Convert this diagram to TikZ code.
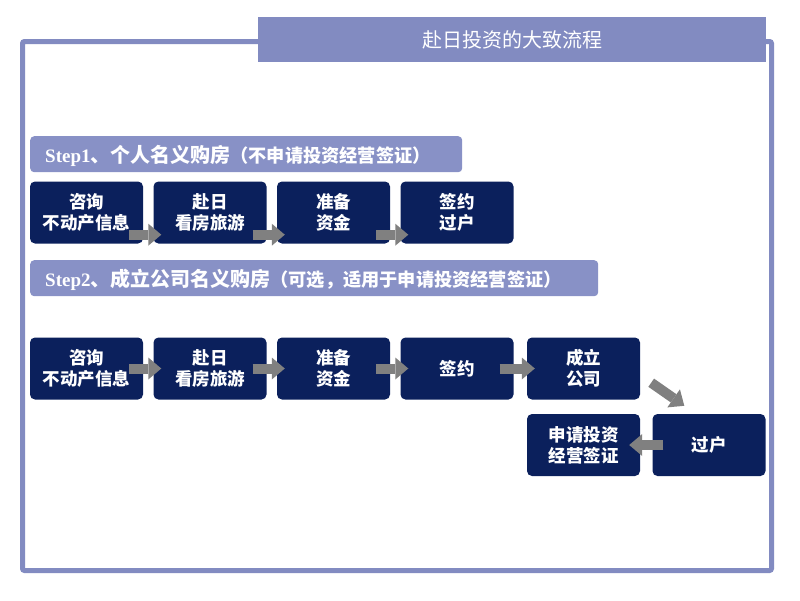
\documentclass[tikz,border=0pt]{standalone}
\usepackage{fontspec}
\setmainfont{Liberation Serif}
\newfontfamily\cjk{Noto Sans CJK SC}
\usetikzlibrary{arrows.meta,calc}
\definecolor{frameblue}{RGB}{130,139,193}
\definecolor{barblue}{RGB}{136,145,198}
\definecolor{navy}{RGB}{11,32,92}
\definecolor{arrowgray}{RGB}{128,128,128}
\begin{document}
\begin{tikzpicture}[x=1pt,y=-1pt,
  stepbox/.style={fill=navy, rounded corners=5pt, minimum width=113pt, minimum height=62pt,
    inner sep=0pt, text=white, font=\cjk\bfseries\fontsize{17.5}{21}\selectfont, align=center},
  flow/.style={draw=arrowgray, line width=10pt,
    -{Triangle[width=22pt,length=13pt,line width=0pt]}},
  barbox/.style={fill=barblue, rounded corners=4pt, minimum height=36pt, inner sep=0pt, anchor=north west},
  bartext/.style={anchor=west, text=white, inner sep=0pt},
]
\useasboundingbox (0,0) rectangle (800,600);
% frame
\draw[frameblue, line width=5pt, rounded corners=2pt] (22.5,41.5) rectangle (771.5,570.5);
% title
\node[fill=frameblue, minimum width=508pt, minimum height=45pt, inner sep=0pt, anchor=north west,
  text=white, font=\cjk\fontsize{20}{20}\selectfont] (title) at (258,17) {赴日投资的大致流程};

% step bars
\node[barbox, minimum width=432pt] (s1bar) at (30,136) {};
\node[bartext] (s1text) at ($(s1bar.west)+(15,2)$) {{\bfseries\fontsize{19}{20}\selectfont Step1}{\cjk\bfseries\fontsize{20}{20}\selectfont 、个人名义购房}{\cjk\bfseries\fontsize{18.2}{20}\selectfont （不申请投资经营签证）}};
\node[barbox, minimum width=568pt] (s2bar) at (30,260) {};
\node[bartext] (s2text) at ($(s2bar.west)+(15,2)$) {{\bfseries\fontsize{19}{20}\selectfont Step2}{\cjk\bfseries\fontsize{20}{20}\selectfont 、成立公司名义购房}{\cjk\bfseries\fontsize{18.2}{20}\selectfont （可选，适用于申请投资经营签证）}};

% row 1
\node[stepbox] (b1) at (86.5,212.5) {咨询\\不动产信息};
\node[stepbox] (b2) at (210,212.5) {赴日\\看房旅游};
\node[stepbox] (b3) at (333.5,212.5) {准备\\资金};
\node[stepbox] (b4) at (457,212.5) {签约\\过户};

% row 2
\node[stepbox] (c1) at (86.5,368.5) {咨询\\不动产信息};
\node[stepbox] (c2) at (210,368.5) {赴日\\看房旅游};
\node[stepbox] (c3) at (333.5,368.5) {准备\\资金};
\node[stepbox] (c4) at (457,368.5) {签约};
\node[stepbox] (c5) at (583.5,368.5) {成立\\公司};

% row 3
\node[stepbox] (d1) at (583.5,445) {申请投资\\经营签证};
\node[stepbox] (d2) at (709,445) {过户};

% arrows row 1
\draw[flow] ($(b1.south east)+(-14,-9)$) -- ($(b2.south west)+(8,-9)$);
\draw[flow] ($(b2.south east)+(-14,-9)$) -- ($(b3.south west)+(8,-9)$);
\draw[flow] ($(b3.south east)+(-14,-9)$) -- ($(b4.south west)+(8,-9)$);
% arrows row 2
\draw[flow] ($(c1.east)+(-14,0)$) -- ($(c2.west)+(8,0)$);
\draw[flow] ($(c2.east)+(-14,0)$) -- ($(c3.west)+(8,0)$);
\draw[flow] ($(c3.east)+(-14,0)$) -- ($(c4.west)+(8,0)$);
\draw[flow] ($(c4.east)+(-14,0)$) -- ($(c5.west)+(8,0)$);
% turn and back
\draw[flow] ($(c5.south east)+(11,-17)$) -- ($(d2.north west)+(32,-8)$);
\draw[flow] ($(d2.west)+(11,0)$) -- ($(d1.east)+(-11,0)$);
\end{tikzpicture}
\end{document}
